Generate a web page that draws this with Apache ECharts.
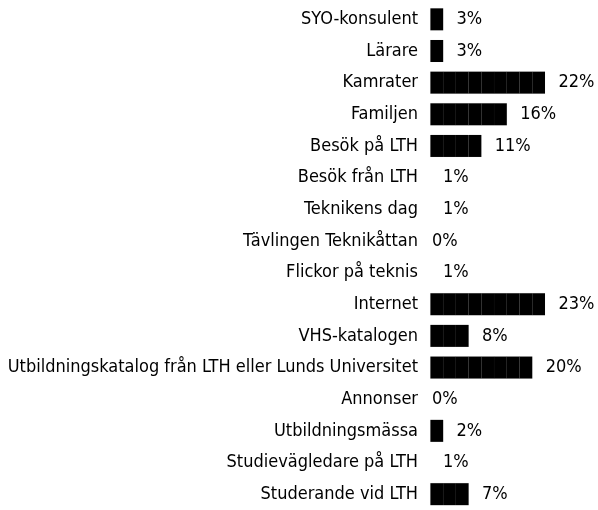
<!DOCTYPE html>
<html><head><meta charset="utf-8">
<script src="https://cdn.jsdelivr.net/npm/echarts@6/dist/echarts.min.js"></script>
<style>html,body{margin:0;padding:0;background:#fff}#c{width:598px;height:510px}</style>
</head><body><div id="c"></div>
<script>
const categories = ["SYO-konsulent","Lärare","Kamrater","Familjen","Besök på LTH","Besök från LTH","Teknikens dag","Tävlingen Teknikåttan","Flickor på teknis","Internet","VHS-katalogen","Utbildningskatalog från LTH eller Lunds Universitet","Annonser","Utbildningsmässa","Studievägledare på LTH","Studerande vid LTH"];
const percentages = [3,3,22,16,11,1,1,0,1,23,8,20,0,2,1,7];
const segmentUnit = 2.5; // each block represents 2.5 %
const FONT = '"Liberation Sans Narrow", "DejaVu Sans Condensed", sans-serif';

const chart = echarts.init(document.getElementById('c'), null, {renderer:'canvas'});
const data = percentages.map(v => ({
  value: Math.round(v / segmentUnit) * segmentUnit,
  pct: v,
  label: { distance: v > 0 ? 13 : 2 }
}));
chart.setOption({
  animation: false,
  grid: { left: 430, top: 3.5, width: 153.6, height: 512, containLabel: false },
  xAxis: { type: 'value', min: 0, max: 30, show: false },
  yAxis: {
    type: 'category', data: categories, inverse: true,
    axisLine: { show: false }, axisTick: { show: false }, splitLine: { show: false },
    axisLabel: { margin: 12, color: '#000', fontSize: 18, fontFamily: FONT }
  },
  series: [{
    type: 'pictorialBar',
    symbol: 'rect',
    symbolRepeat: true,
    symbolSize: [12.8, 22],
    symbolMargin: 0,
    symbolClip: false,
    barCategoryGap: '0%',
    itemStyle: { color: '#000', borderColor: '#555', borderWidth: 1 },
    label: {
      show: true, position: 'right', color: '#000', fontSize: 18, fontFamily: FONT,
      formatter: p => p.data.pct + '%'
    },
    data: data
  }]
});
</script></body></html>
